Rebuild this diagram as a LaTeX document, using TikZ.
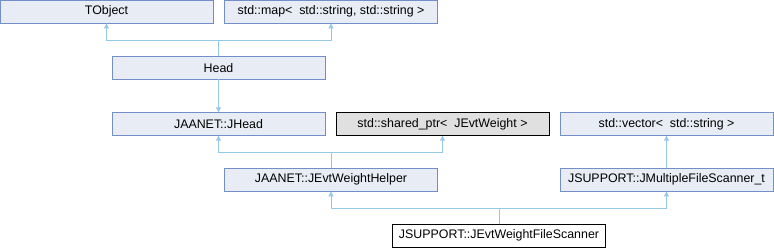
\documentclass[tikz,border=0pt]{standalone}
\usepackage{fontspec}
\setmainfont{Liberation Sans}
\usetikzlibrary{arrows.meta}
\definecolor{boxfill}{RGB}{232,236,245}
\definecolor{boxline}{RGB}{116,142,200}
\definecolor{conn}{RGB}{150,200,232}
\definecolor{grayfill}{RGB}{224,224,224}
\tikzset{
  cls/.style={draw=boxline, fill=boxfill, line width=0.9pt, minimum width=213pt, minimum height=22.5pt, inner sep=0pt, font=\fontsize{12.4}{14}\selectfont},
  extcls/.style={cls, draw=black, fill=grayfill},
  cur/.style={cls, draw=black, fill=white},
  inh/.style={draw=conn, line width=0.9pt, -{Triangle[width=5pt,length=5pt]}},
  ln/.style={draw=conn, line width=0.9pt}
}
\begin{document}
\begin{tikzpicture}[x=1pt,y=-1pt]
\useasboundingbox (0,0) rectangle (774,248);
\node[cls] (tobj) at (106.5,11.75) {TObject};
\node[cls] (map) at (331,11.75) {std::map<\ \ std::string, std::string >};
\node[cls] (head) at (218.5,67.75) {Head};
\node[cls] (jhead) at (218.5,124) {JAANET::JHead};
\node[extcls] (shptr) at (442.5,124) {std::shared\_ptr<\ \ JEvtWeight >};
\node[cls] (vec) at (666.5,124) {std::vector<\ \ std::string >};
\node[cls] (helper) at (331,179.75) {JAANET::JEvtWeightHelper};
\node[cls] (multi) at (666.5,179.75) {JSUPPORT::JMultipleFileScanner\_t};
\node[cur] (scan) at (499,235.75) {JSUPPORT::JEvtWeightFileScanner};
% Head
\coordinate (j1) at (218.5,40);
\draw[ln] (head.north) -- (j1);
\draw[inh] (j1) -| (tobj.south);
\draw[inh] (j1) -| (map.south);
\draw[inh] (head.south) -- (jhead.north);
% helper
\coordinate (j2) at (331,152);
\draw[ln] (helper.north) -- (j2);
\draw[inh] (j2) -| (jhead.south);
\draw[inh] (j2) -| (shptr.south);
% multi
\draw[inh] (multi.north) -- (vec.south);
% scanner
\coordinate (j3) at (499,208);
\draw[ln] (scan.north) -- (j3);
\draw[inh] (j3) -| (helper.south);
\draw[inh] (j3) -| (multi.south);
\end{tikzpicture}
\end{document}
